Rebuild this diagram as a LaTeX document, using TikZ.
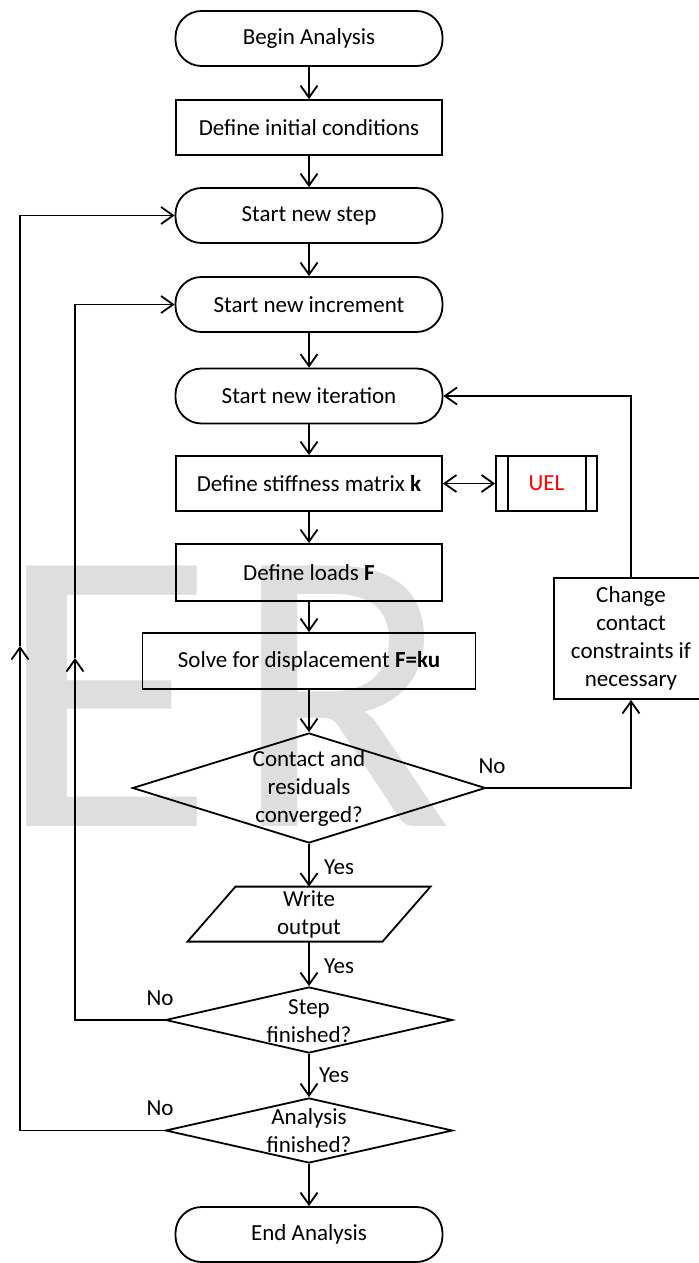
\documentclass[tikz,border=0pt]{standalone}
\usepackage{fontspec}
\setmainfont{Carlito}
\usetikzlibrary{shapes.geometric,arrows.meta}
\begin{document}
\begin{tikzpicture}[x=0.5pt,y=-0.5pt,
  font=\fontsize{11.5}{14}\selectfont,
  term/.style={draw,line width=0.9pt,rounded corners=13pt,minimum width=133.5pt,minimum height=27.5pt,inner sep=0pt},
  proc/.style={draw,line width=0.9pt,minimum width=133pt,minimum height=27.5pt,inner sep=0pt},
  dec/.style={draw,diamond,line width=0.9pt,inner sep=0pt},
  txt/.style={align=center,inner sep=0pt},
  lab/.style={inner sep=0pt},
  arr/.style={line width=0.9pt,-{Straight Barb[length=6pt,width=8.5pt,line width=0.9pt]}},
  arrb/.style={line width=0.9pt,{Straight Barb[length=6pt,width=8.5pt,line width=0.9pt]}-{Straight Barb[length=6pt,width=8.5pt,line width=0.9pt]}},
  wm/.style={font=\fontsize{203}{203}\selectfont,text=black!13,anchor=base,inner sep=0pt}
]
\useasboundingbox (0,0) rectangle (699,1263);
\clip (0,0) rectangle (699,1263);
\fill[white] (0,0) rectangle (699,1263);

% watermark
\node[wm] (wmE) at (106,826) {\scalebox{1.12}[1]{E}};
\node[wm] (wmR) at (343,826) {R};

% nodes
\node[term] (begin) at (309,38.5) {Begin Analysis};
\node[proc] (init) at (309,127.5) {Define initial conditions};
\node[term] (step) at (309,215.5) {Start new step};
\node[term] (incr) at (309,304.5) {Start new increment};
\node[term] (iter) at (309,396) {Start new iteration};
\node[proc] (stiff) at (309,483.5) {Define stiffness matrix \textbf{k}};
\node[proc,minimum width=50.5pt,text=red] (uel) at (546.5,483.5) {UEL};
\draw[line width=0.9pt] ([xshift=6.5pt]uel.north west) -- ([xshift=6.5pt]uel.south west);
\draw[line width=0.9pt] ([xshift=-6pt]uel.north east) -- ([xshift=-6pt]uel.south east);
\node[proc,minimum height=28.5pt] (loads) at (309,572.5) {Define loads \textbf{F}};
\node[proc,minimum width=166.5pt,minimum height=28pt] (solve) at (309,661) {Solve for displacement \textbf{F=ku}};
\node[dec,minimum width=176.5pt,minimum height=55pt] (main) at (309,788) {};
\node[txt] (mainT) at (main.center) {Contact and\\residuals\\converged?};
\node[txt,minimum height=27.5pt,minimum width=1pt] (write) at (309,914.5) {Write\\output};
\draw[line width=0.9pt] (write.north) ++(-73.5,0) -- ++(195,0) -- ++(-48,55) -- ++(-195,0) -- cycle;
\node[dec,minimum width=143.5pt,minimum height=33pt] (stepd) at (309,1020) {};
\node[txt] (stepdT) at (309,1021) {Step\\finished?};
\node[dec,minimum width=143.5pt,minimum height=32.5pt] (anal) at (309,1130.5) {};
\node[txt] (analT) at (309,1131) {Analysis\\finished?};
\node[term] (end) at (309,1234.5) {End Analysis};
\node[proc,txt,draw,line width=0.9pt,minimum width=77pt,minimum height=60.5pt] (change) at (631,638.5) {Change\\contact\\constraints if\\necessary};

% labels
\node[lab] (no1) at (492,766) {No};
\node[lab] (yes1) at (339,867) {Yes};
\node[lab] (yes2) at (339,966) {Yes};
\node[lab] (yes3) at (334,1075) {Yes};
\node[lab] (no2) at (160,998) {No};
\node[lab] (no3) at (160,1108) {No};

% connectors
\draw[arr] (begin) -- (init);
\draw[arr] (init) -- (step);
\draw[arr] (step) -- (incr);
\draw[arr] (incr) -- (iter);
\draw[arr] (iter) -- (stiff);
\draw[arrb] (stiff) -- (uel);
\draw[arr] (stiff) -- (loads);
\draw[arr] (loads) -- (solve);
\draw[arr] (solve) -- (main);
\draw[arr] (main) -- (write);
\draw[arr] (write.south) -- (stepd.north);
\draw[arr] (stepd) -- (anal);
\draw[arr] (anal) -- (end);
\draw[arr] (main.east) -| (change.south);
\draw[arr] (change.north) |- (iter.east);
\coordinate (sm) at (75,658);
\draw[arr] (stepd.west) -| (sm);
\draw[arr] (sm) |- (incr.west);
\coordinate (am) at (20,646);
\draw[arr] (anal.west) -| (am);
\draw[arr] (am) |- (step.west);
\end{tikzpicture}
\end{document}
